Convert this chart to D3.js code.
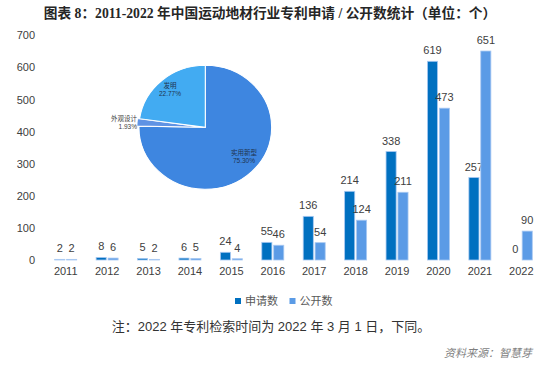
<!DOCTYPE html>
<html>
<head>
<meta charset="utf-8">
<script src="https://cdnjs.cloudflare.com/ajax/libs/d3/7.8.5/d3.min.js"></script>
<style>
  body { margin: 0; background: #fff; }
  svg { display: block; }
</style>
</head>
<body>
<svg id="chart" width="554" height="365"></svg>
<script>
// data
var years = ['2011','2012','2013','2014','2015','2016','2017','2018','2019','2020','2021','2022'];
var seriesNames = ['申请数', '公开数'];
var applied = [2, 8, 5, 6, 24, 55, 136, 214, 338, 619, 257, 0];
var published = [2, 6, 2, 5, 4, 46, 54, 124, 211, 473, 651, 90];
var yTicks = [0, 100, 200, 300, 400, 500, 600, 700];

var pieNames = ['实用新型', '外观设计', '发明'];
var pieShares = [75.30, 1.93, 22.77];

var colors = ['#0070c0', '#5b9be6'];
var pieColors = ['#3e86e0', '#5f93e4', '#42abf2'];

var svg = d3.select('#chart');

// title
svg.append('text')
   .attr('x', 270).attr('y', 18)
   .attr('text-anchor', 'middle')
   .style('font-family', '"Liberation Serif", "Noto Sans CJK SC", serif')
   .style('font-weight', 'bold')
   .style('font-size', '13.7px')
   .style('fill', '#262626')
   .text('图表 8：2011-2022 年中国运动地材行业专利申请 / 公开数统计（单位：个）');

// scales
var x0 = d3.scaleBand().domain(years).range([45, 542]);
var x1 = d3.scaleBand().domain(seriesNames).range([-11, 11]).paddingInner(0.15);
var y = d3.scaleLinear().domain([0, 700]).range([260, 35.3]);

var labelFont = '"Liberation Sans", Arial, sans-serif';

// y axis, no line and no ticks
var yAxis = svg.append('g')
   .attr('transform', 'translate(35,0)')
   .call(d3.axisLeft(y).tickValues(yTicks).tickSize(0).tickPadding(0));
yAxis.select('.domain').remove();
yAxis.selectAll('text')
   .style('font-family', labelFont)
   .style('font-size', '11px')
   .style('fill', '#404040');

// x axis
var xAxis = svg.append('g')
   .attr('transform', 'translate(0,267)')
   .call(d3.axisBottom(x0).tickSize(0).tickPadding(0));
xAxis.select('.domain').remove();
xAxis.selectAll('text')
   .attr('dy', '0.71em')
   .style('font-family', labelFont)
   .style('font-size', '11px')
   .style('fill', '#404040');

// bars
var rows = years.map(function(yr, i){
	return { year: yr, values: [applied[i], published[i]] };
});

var group = svg.selectAll('.year')
   .data(rows)
   .enter().append('g')
   .attr('class', 'year')
   .attr('transform', function(d){ return 'translate(' + (x0(d.year) + x0.bandwidth() / 2) + ',0)'; });

var cell = group.selectAll('.cell')
   .data(function(d){
   	return d.values.map(function(v, k){ return { name: seriesNames[k], value: v, k: k }; });
   })
   .enter().append('g')
   .attr('class', 'cell');

cell.filter(function(d){ return d.value > 0; })
   .append('rect')
   .attr('x', function(d){ return x1(d.name); })
   .attr('width', x1.bandwidth())
   .attr('y', function(d){ return y(d.value); })
   .attr('height', function(d){ return y(0) - y(d.value); })
   .style('fill', function(d){ return colors[d.k]; })
   .style('stroke', '#a9c9f2')
   .style('stroke-width', 0.8);

cell.append('text')
   .attr('x', function(d){ return x1(d.name) + x1.bandwidth() / 2; })
   .attr('y', function(d){ return y(d.value) - 7; })
   .attr('text-anchor', 'middle')
   .style('font-family', labelFont)
   .style('font-size', '11px')
   .style('fill', '#404040')
   .text(function(d){ return d.value; });

// pie inset
var pieR = 62;
var pie = d3.pie().sort(null).value(function(d){ return d; });
var arc = d3.arc().innerRadius(0).outerRadius(pieR);
var arcs = pie(pieShares);

var pieG = svg.append('g')
   .attr('transform', 'translate(205.3,127.3) scale(1.07,1)');

pieG.selectAll('path')
   .data(arcs)
   .enter().append('path')
   .attr('transform', function(d, i){
   	if (i !== 1) return null;
   	var c = arc.centroid(d), len = Math.sqrt(c[0] * c[0] + c[1] * c[1]);
   	return 'translate(' + (c[0] / len * 2) + ',' + (c[1] / len * 2) + ')';
   })
   .attr('d', arc)
   .style('fill', function(d, i){ return pieColors[i]; })
   .style('stroke', '#fff')
   .style('stroke-width', 1);

var pieLabels = [
	{ x: 244, y: 155, anchor: 'middle', color: '#1f3550' },
	{ x: 137, y: 121, anchor: 'end', color: '#404040' },
	{ x: 170, y: 88, anchor: 'middle', color: '#1f3550' }
];

var pieFont = '"Noto Sans CJK SC", sans-serif';

svg.selectAll('.piename')
   .data(arcs)
   .enter().append('text')
   .attr('class', 'piename')
   .attr('x', function(d, i){ return pieLabels[i].x; })
   .attr('y', function(d, i){ return pieLabels[i].y; })
   .attr('text-anchor', function(d, i){ return pieLabels[i].anchor; })
   .style('font-family', pieFont)
   .style('font-size', '6.5px')
   .style('fill', function(d, i){ return pieLabels[i].color; })
   .text(function(d, i){ return pieNames[i]; });

svg.selectAll('.piepct')
   .data(arcs)
   .enter().append('text')
   .attr('class', 'piepct')
   .attr('x', function(d, i){ return pieLabels[i].x; })
   .attr('y', function(d, i){ return pieLabels[i].y + 8.3; })
   .attr('text-anchor', function(d, i){ return pieLabels[i].anchor; })
   .style('font-family', labelFont)
   .style('font-size', '6.5px')
   .style('fill', function(d, i){ return pieLabels[i].color; })
   .text(function(d){ return d.data.toFixed(2) + '%'; });

// legend
var legendX = [238, 292.5];
var legend = svg.selectAll('.legend')
   .data(seriesNames)
   .enter().append('g')
   .attr('class', 'legend')
   .attr('transform', function(d, i){ return 'translate(' + legendX[i] + ',301)'; });

legend.append('rect')
   .attr('x', -3).attr('y', -3)
   .attr('width', 6).attr('height', 6)
   .style('fill', function(d, i){ return colors[i]; });

legend.append('text')
   .attr('x', 7).attr('y', 4)
   .style('font-family', '"Noto Sans CJK SC", sans-serif')
   .style('font-size', '11px')
   .style('fill', '#595959')
   .text(function(d){ return d; });

// note and source
svg.append('text')
   .attr('x', 271).attr('y', 331)
   .attr('text-anchor', 'middle')
   .style('font-family', '"Liberation Sans", "Noto Sans CJK SC", sans-serif')
   .style('font-size', '13px')
   .style('fill', '#333')
   .text('注：2022 年专利检索时间为 2022 年 3 月 1 日，下同。');

svg.append('text')
   .attr('x', 532).attr('y', 356.5)
   .attr('text-anchor', 'end')
   .style('font-family', '"Noto Sans CJK SC", sans-serif')
   .style('font-style', 'italic')
   .style('font-size', '11px')
   .style('fill', '#7f7f7f')
   .text('资料来源：智慧芽');
</script>
</body>
</html>
